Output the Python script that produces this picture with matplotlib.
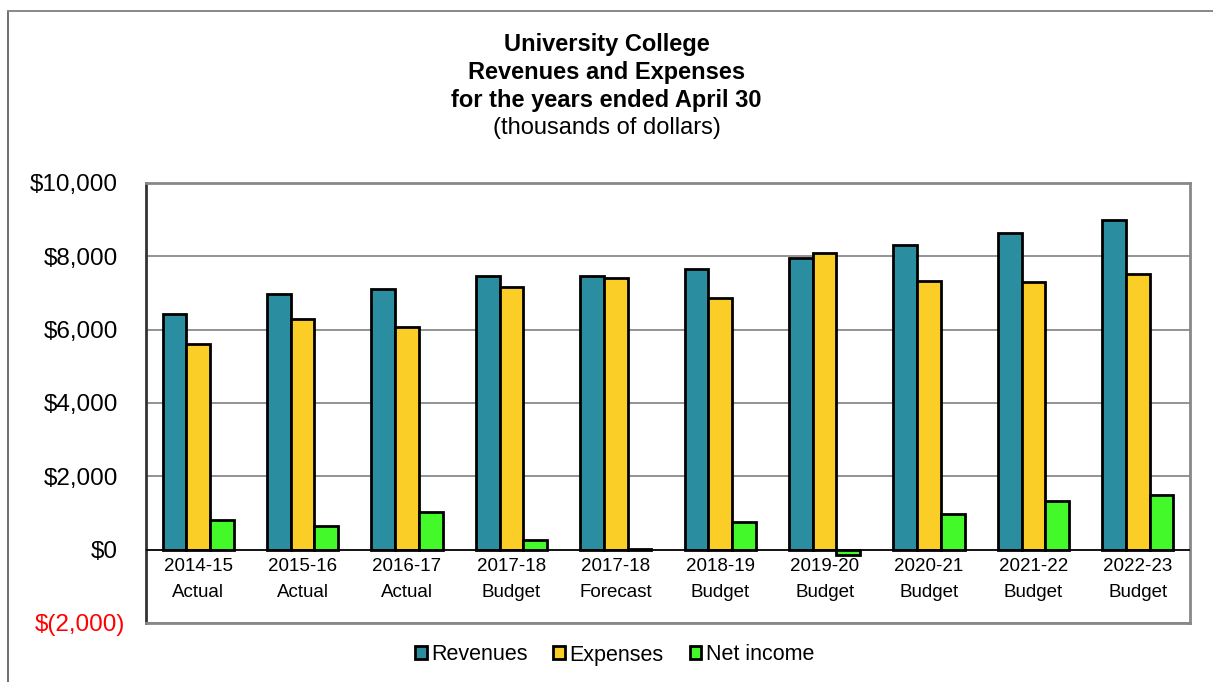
import matplotlib
matplotlib.use("Agg")
import matplotlib.pyplot as plt
from matplotlib.lines import Line2D
from matplotlib.transforms import ScaledTranslation
import numpy as np

categories = ["2014-15\nActual", "2015-16\nActual", "2016-17\nActual", "2017-18\nBudget",
              "2017-18\nForecast", "2018-19\nBudget", "2019-20\nBudget", "2020-21\nBudget",
              "2021-22\nBudget", "2022-23\nBudget"]
revenues = [6430, 6965, 7110, 7465, 7455, 7650, 7950, 8300, 8640, 9000]
expenses = [5615, 6295, 6060, 7165, 7410, 6860, 8090, 7330, 7310, 7510]
net_income = [818, 645, 1035, 255, 20, 763, -136, 962, 1317, 1480]
series_names = ["Revenues", "Expenses", "Net income"]
colors = ["#2A8EA0", "#FBCD27", "#44F92A"]
yticks = [-2000, 0, 2000, 4000, 6000, 8000, 10000]
ytick_labels = ["$(2,000)", "$0", "$2,000", "$4,000", "$6,000", "$8,000", "$10,000"]
title_lines = ["University College", "Revenues and Expenses", "for the years ended April 30"]
subtitle = "(thousands of dollars)"

plt.rcParams['font.family'] = ['Liberation Sans', 'DejaVu Sans']

W, H = 1213, 682
fig = plt.figure(figsize=(W / 100, H / 100), dpi=100)
ax = fig.add_axes([146 / W, 1 - 623 / H, (1190 - 146) / W, (623 - 183) / H])

x = np.arange(len(categories))
bw = 0.227
for i, (vals, name, c) in enumerate(zip([revenues, expenses, net_income], series_names, colors)):
    ax.bar(x + (i - 1) * bw, vals, width=bw, color=c, edgecolor="black", linewidth=2,
           label=name, zorder=3)

ax.set_xlim(-0.5, len(categories) - 0.5)
ax.set_ylim(-2000, 10000)
ax.set_yticks(yticks)
ax.set_yticklabels(ytick_labels, fontsize=17.5)
ax.tick_params(axis="y", length=0, pad=20)
for lbl, v in zip(ax.get_yticklabels(), yticks):
    if v < 0:
        lbl.set_color("red")
        lbl.set_transform(lbl.get_transform() + ScaledTranslation(7 / 100, 0, fig.dpi_scale_trans))
ax.set_xticks([])
ax.grid(axis="y", color="#808080", linewidth=1.2, zorder=0)
ax.axhline(0, color="black", linewidth=1.2, zorder=4)
for s in ax.spines.values():
    s.set_color("#888888")
    s.set_linewidth(2)
ax.spines["left"].set_color("#333333")

xfont = ['Liberation Sans Narrow', 'Liberation Sans', 'DejaVu Sans']
for xi, lab in zip(x, categories):
    l1, l2 = lab.split("\n")
    t1 = ax.text(xi, 0, l1, ha="center", va="center", fontsize=13.5, family=xfont)
    t1.set_transform(ax.transData + ScaledTranslation(0, -17 / 100, fig.dpi_scale_trans))
    t2 = ax.text(xi, 0, l2, ha="center", va="center", fontsize=13.5, family=xfont)
    t2.set_transform(ax.transData + ScaledTranslation(0, -43 / 100, fig.dpi_scale_trans))

for k, line in enumerate(title_lines):
    fig.text(0.5, 1 - (45 + 28 * k) / H, line, ha="center", va="center",
             fontsize=17, fontweight="bold")
fig.text(0.5, 1 - 128 / H, subtitle, ha="center", va="center", fontsize=17)

leg = fig.legend(loc="center", bbox_to_anchor=(0.5 + 8 / W, 1 - 655 / H), ncol=3, frameon=False,
                 fontsize=15.5, handlelength=0.55, handleheight=0.55, handletextpad=0.2,
                 columnspacing=1.2)

fig.add_artist(Line2D([8 / W, 8 / W], [0, 1 - 10.5 / H], transform=fig.transFigure,
                      color="#555555", linewidth=1.2))
fig.add_artist(Line2D([8 / W, 1], [1 - 10.5 / H, 1 - 10.5 / H], transform=fig.transFigure,
                      color="#888888", linewidth=1.4))

fig.savefig("out.png", dpi=100)
